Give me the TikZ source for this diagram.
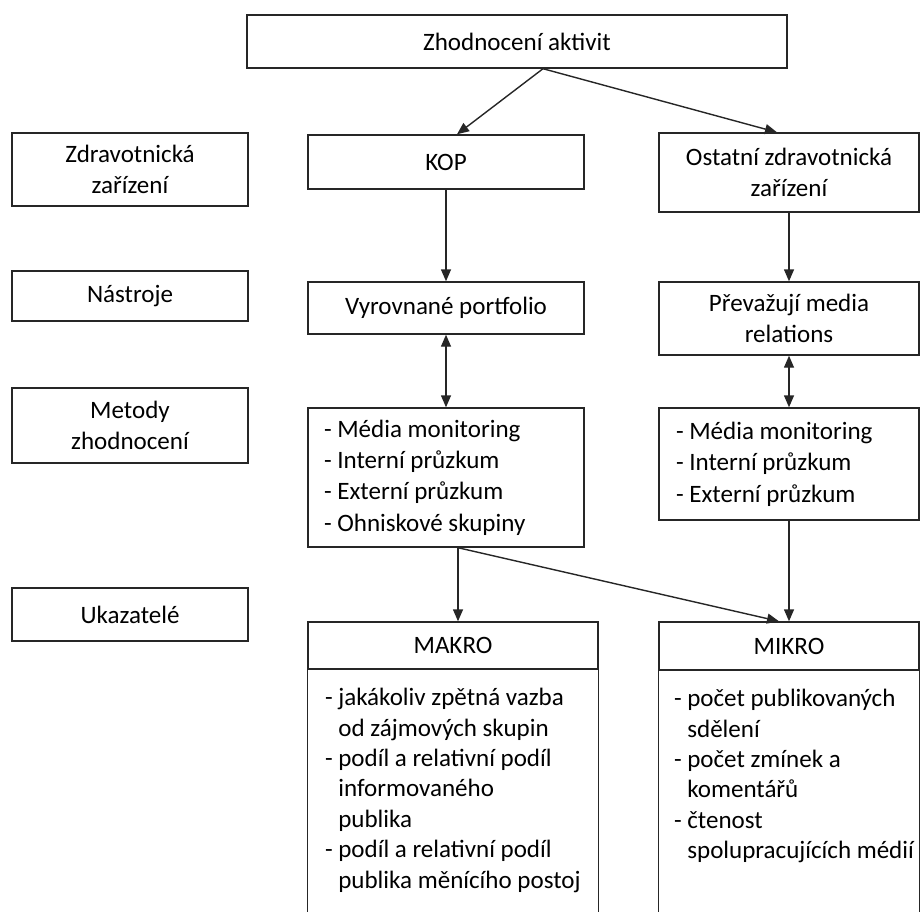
\documentclass[tikz,border=0pt]{standalone}
\usepackage{fontspec}
\setmainfont{Carlito}
\usetikzlibrary{arrows.meta,calc}
\newdimen\pxu \pxu=0.25mm

\begin{document}
\begin{tikzpicture}[x=0.25mm,y=-0.25mm,
  box/.style={draw=black!85,line width=1pt,inner sep=0pt,align=center,
    font=\fontsize{17.8}{21.6}\selectfont},
  lst/.style={box,align=flush left,font=\fontsize{17.8}{22.3}\selectfont},
  arr/.style={draw=black!85,line width=1pt,-{Triangle[length=3mm,width=2.5mm]}},
  both/.style={arr,{Triangle[length=3mm,width=2.5mm]}-{Triangle[length=3mm,width=2.5mm]}}]
  \useasboundingbox (0,0) rectangle (921,911);
  \clip (0,0) rectangle (921,911);
  \node[box,minimum width=540\pxu,minimum height=53\pxu] (zhod) at (517,41.5) {Zhodnocení aktivit};
  % left column
  \node[box,minimum width=236\pxu,minimum height=73\pxu] (zarizeni) at (130,169.5) {Zdravotnická\\zařízení};
  \node[box,minimum width=236\pxu,minimum height=50\pxu] (nastroje) at (130,296) {Nástroje};
  \node[box,minimum width=236\pxu,minimum height=75\pxu] (metody) at (130,425.5) {Metody\\zhodnocení};
  \node[box,minimum width=236\pxu,minimum height=53\pxu] (ukazatele) at (130,614.5) {Ukazatelé};
  % KOP
  \node[box,minimum width=276\pxu,minimum height=54\pxu] (kop) at (446,162) {KOP};
  \node[box,minimum width=276\pxu,minimum height=52\pxu] (portfolio) at (446,308) {Vyrovnané portfolio};
  \node[lst,text width=244\pxu,minimum width=276\pxu,minimum height=139\pxu] (metkop) at (446,477.5)
    {- Média monitoring\\- Interní průzkum\\- Externí průzkum\\- Ohniskové skupiny};
  % ostatni
  \node[box,minimum width=260\pxu,minimum height=79\pxu] (ostatni) at (789,172.5) {Ostatní zdravotnická\\zařízení};
  \node[box,minimum width=260\pxu,minimum height=73\pxu] (media) at (789,318.5) {Převažují media\\relations};
  \node[lst,text width=226\pxu,minimum width=260\pxu,minimum height=112\pxu] (metost) at (789,464)
    {- Média monitoring\\- Interní průzkum\\- Externí průzkum};
  % ukazatele
  \node[box,minimum width=290\pxu,minimum height=47\pxu] (makro) at (453,645.5) {MAKRO};
  \node[box,minimum width=260\pxu,minimum height=48\pxu] (mikro) at (789,646) {MIKRO};
  \draw[black!85,line width=1pt] (makro.south west) -- ++(0,300) (makro.south east) -- ++(0,300);
  \draw[black!85,line width=1pt] (mikro.south west) -- ++(0,300) (mikro.south east) -- ++(0,300);
  \node[box,draw=none,align=left,anchor=north west] (makrotxt) at ($(makro.south west)+(17,18)$)
    {- jakákoliv zpětná vazba\\\hphantom{- }od zájmových skupin\\- podíl a relativní podíl\\\hphantom{- }informovaného\\\hphantom{- }publika\\- podíl a relativní podíl\\\hphantom{- }publika měnícího postoj};
  \node[box,draw=none,align=left,anchor=north west] (mikrotxt) at ($(mikro.south west)+(15,18)$)
    {- počet publikovaných\\\hphantom{- }sdělení\\- počet zmínek a\\\hphantom{- }komentářů\\- čtenost\\\hphantom{- }spolupracujících médií};
  % arrows
  \coordinate (split) at ($(zhod.south)+(26,0)$);
  \draw[arr] (split) -- ($(kop.north)+(11,0)$);
  \draw[arr] (split) -- ($(ostatni.north)+(-12,0)$);
  \draw[arr] (kop.south) -- (portfolio.north);
  \draw[both] (portfolio.south) -- (metkop.north);
  \draw[arr] (ostatni.south) -- (media.north);
  \draw[both] (media.south) -- (metost.north);
  \coordinate (kopout) at ($(metkop.south)+(12,0)$);
  \draw[arr] (kopout) -- (kopout |- makro.north);
  \draw[arr] (kopout) -- ($(mikro.north)+(-10,0)$);
  \draw[arr] (metost.south) -- (mikro.north);
\end{tikzpicture}
\end{document}
